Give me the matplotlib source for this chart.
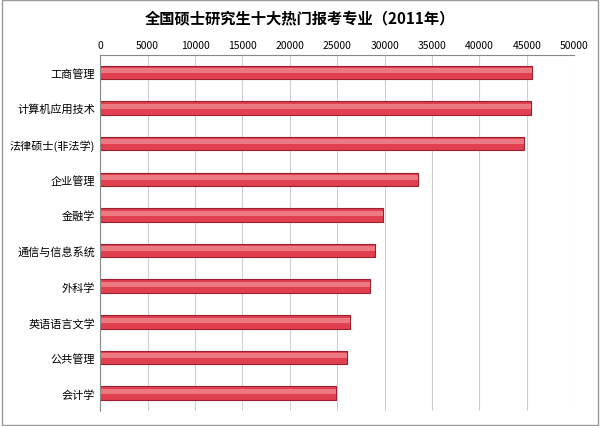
import matplotlib
matplotlib.use("Agg")
import matplotlib.pyplot as plt
import numpy as np

plt.rcParams["font.family"] = "Noto Sans CJK SC"

categories = ["工商管理", "计算机应用技术", "法律硕士(非法学)", "企业管理", "金融学",
              "通信与信息系统", "外科学", "英语语言文学", "公共管理", "会计学"]
values = [45600, 45400, 44700, 33500, 29800, 29000, 28500, 26300, 26000, 24900]
ticks = list(range(0, 50001, 5000))

fig = plt.figure(figsize=(6.0, 4.27), dpi=100)
ax = fig.add_axes([0.167, 0.035, 0.79, 0.835])
y = np.arange(len(categories))
ax.barh(y, values, height=0.38, color="#e0404f", edgecolor="#9a2030", linewidth=0.8)
ax.barh(y - 0.05, values, height=0.14, color="#f08890", linewidth=0, alpha=0.8)
ax.set_ylim(len(categories) - 0.5, -0.5)
ax.set_yticks(y)
ax.set_yticklabels(categories, fontsize=8)
ax.set_xlim(0, 50000)
ax.set_xticks(ticks)
ax.set_xticklabels([str(t) for t in ticks], fontsize=7.5)
ax.xaxis.tick_top()
ax.tick_params(length=0)
ax.grid(axis="x", color="#d0d0d0", linewidth=0.8)
ax.set_axisbelow(True)
for s in ["right", "bottom"]:
    ax.spines[s].set_visible(False)
ax.spines["top"].set_color("#888888")
ax.spines["left"].set_color("#888888")
fig.text(0.5, 0.955, "全国硕士研究生十大热门报考专业（2011年）", ha="center", va="center",
         fontsize=11, fontweight="bold")
fig.patches.append(plt.Rectangle((0.003, 0.003), 0.994, 0.994, transform=fig.transFigure,
                                 fill=False, edgecolor="#999999", linewidth=1))
fig.savefig("out.png", dpi=100)
